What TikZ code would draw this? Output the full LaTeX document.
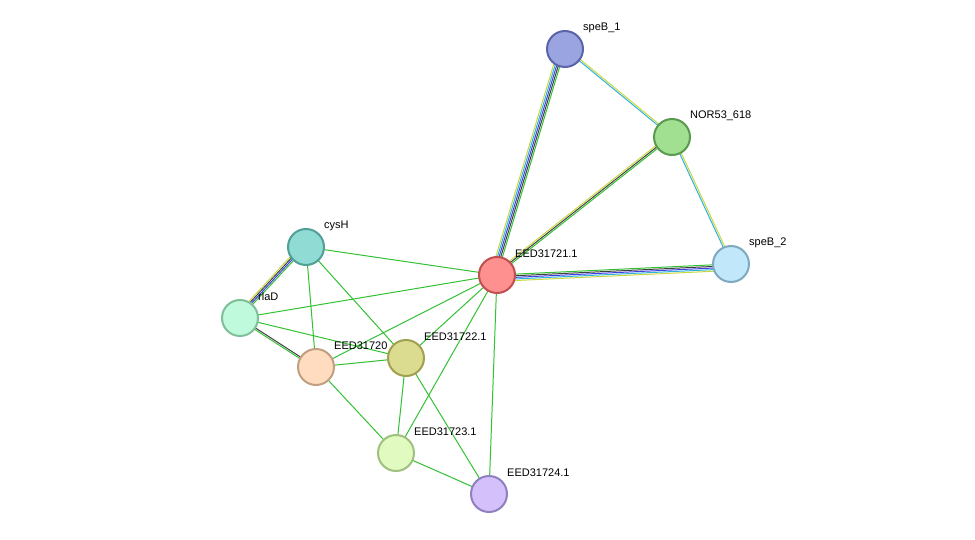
\documentclass[tikz,border=0pt]{standalone}
\usepackage{fontspec}
\setmainfont{Liberation Sans}
\usetikzlibrary{calc}
\definecolor{eg}{HTML}{33C033}
\definecolor{ek}{HTML}{404040}
\definecolor{eb}{HTML}{4040E0}
\definecolor{ec}{HTML}{30B0E0}
\definecolor{ey}{HTML}{C8D840}
\newcommand{\multiedge}[3]{%
  \foreach \c [count=\i] in {#3}{%
    \pgfmathsetmacro{\off}{(\i-1)*1.6}
    \draw[\c,line width=1pt] ($(#1)!\off pt!90:(#2)$) -- ($(#2)!\off pt!-90:(#1)$);
  }}
\tikzset{prot/.style={circle,minimum size=36pt,inner sep=0pt,line width=2pt},
  lab/.style={anchor=west,font=\fontsize{11}{13}\selectfont,inner sep=0pt},
  ge/.style={eg,line width=1pt}}
\newcommand{\prot}[6]{%
  \definecolor{f#1}{HTML}{#4}\definecolor{s#1}{HTML}{#5}%
  \node[prot,fill=f#1,draw=s#1] (#1) at (#2,#3) {};
  \node[lab] (l#1) at (#2+18,#3-21) {#6};}
\begin{document}
\begin{tikzpicture}[x=1pt,y=-1pt]
\useasboundingbox (0,0) rectangle (975,540);
\coordinate (a) at (565,49); \coordinate (b) at (672,137); \coordinate (c) at (731,264);
\coordinate (d) at (497,275); \coordinate (e) at (306,247); \coordinate (f) at (240,318);
\coordinate (g) at (316,367); \coordinate (h) at (406,358); \coordinate (i) at (396,453);
\coordinate (j) at (489,494);
\multiedge{a}{b}{ec,ey}
\multiedge{d}{a}{eg,ek,eb,ec,ey}
\multiedge{d}{b}{eg,ek,ey}
\multiedge{b}{c}{ec,ey}
\multiedge{c}{d}{eg,ek,eb,ec,ey}
\multiedge{f}{e}{eg,eb,ek,ey}
\multiedge{g}{f}{ek,eg}
\foreach \u/\v in {e/d,e/g,e/h,f/d,f/h,g/d,g/h,g/i,h/d,h/i,h/j,i/d,i/j,j/d}
  \draw[ge] (\u) -- (\v);
\prot{speB1}{565}{49}{9AA4E0}{5A64A8}{speB\_1}
\prot{nor}{672}{137}{A0E090}{5A9A50}{NOR53\_618}
\prot{speB2}{731}{264}{C0E8FA}{80A8C0}{speB\_2}
\prot{n21}{497}{275}{FF9090}{C05050}{EED31721.1}
\prot{cys}{306}{247}{90DCD4}{50A098}{cysH}
\prot{rla}{240}{318}{C0FADC}{80C098}{rlaD}
\prot{n20}{316}{367}{FFDCC0}{C0A080}{EED31720}
\prot{n22}{406}{358}{DCDC90}{A0A050}{EED31722.1}
\prot{n23}{396}{453}{E0FAC0}{A0C080}{EED31723.1}
\prot{n24}{489}{494}{D4C0FA}{9080C0}{EED31724.1}
\end{tikzpicture}
\end{document}
